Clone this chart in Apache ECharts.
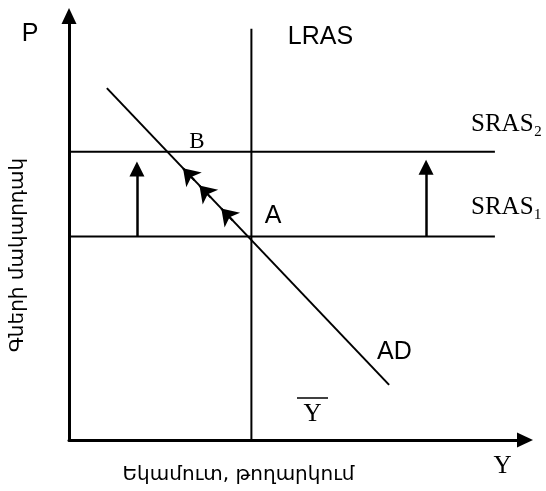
<!DOCTYPE html>
<html><head><meta charset="utf-8">
<script src="https://cdn.jsdelivr.net/npm/echarts@6/dist/echarts.min.js"></script>
<style>html,body{margin:0;padding:0;background:#fff}#c{width:546px;height:491px}</style>
</head><body><div id="c"></div>
<script>
// ---- data (abstract units, axes 0..100) ----
const lrasX = 40;                 // long-run aggregate supply (potential output)
const lrasTop = 97;
const srasLevels = [48, 68];      // SRAS1, SRAS2 price levels
const srasEndX = 93.4;
const adX = [8.3, 70.2];
const adY = [83, 13];
const shiftX = [14.9, 78.3];      // vertical shift arrows
const shiftEndY = [63.9, 64.3];
const moveX = [25.0, 28.6, 33.4]; // arrows along AD (A -> B)
const moveY = [64.1, 60.0, 54.6];
const axisNames = ['P', 'Y'];
const curveNames = ['LRAS', 'SRAS\u2081', 'SRAS\u2082', 'AD'];
const pointNames = ['A', 'B'];
const potentialLabel = 'Y';
const xTitle = 'Եկամուտ, թողարկում';
const yTitle = 'Գների մակարդակ';

const black = '#000';
const sans = 'Liberation Sans, Arial, sans-serif';
const serif = 'Liberation Serif, serif';

function seg(a, b) { return [a, b]; }

const chart = echarts.init(document.getElementById('c'), null, {renderer: 'canvas'});

const axisCommon = {
  type: 'value', min: 0, max: 100,
  axisLine: {show: true, onZero: false, symbol: ['none', 'triangle'], symbolSize: [15, 16],
             lineStyle: {color: black, width: 3}},
  axisTick: {show: false}, axisLabel: {show: false}, splitLine: {show: false}
};

const thin = {color: black, width: 2};

function txt(text, x, y, font, size, align, extra) {
  return Object.assign({
    type: 'text', x: x, y: y, silent: true,
    style: {text: text, fontFamily: font, fontSize: size, fill: black,
            align: align || 'center', verticalAlign: 'middle'}
  }, extra || {});
}

chart.setOption({
  animation: false,
  backgroundColor: '#fff',
  grid: {left: 69, right: 21, top: 16, bottom: 51},
  xAxis: axisCommon,
  yAxis: axisCommon,
  series: [
    {type: 'line', name: curveNames[0], data: [[lrasX, 0], [lrasX, lrasTop]], symbol: 'none', lineStyle: thin},
    {type: 'line', name: curveNames[1], data: [[0, srasLevels[0]], [srasEndX, srasLevels[0]]], symbol: 'none', lineStyle: thin},
    {type: 'line', name: curveNames[2], data: [[0, srasLevels[1]], [srasEndX, srasLevels[1]]], symbol: 'none', lineStyle: thin},
    {type: 'line', name: curveNames[3], data: [[adX[0], adY[0]], [adX[1], adY[1]]], symbol: 'none', lineStyle: thin},
    {type: 'lines', coordinateSystem: 'cartesian2d', symbol: ['none', 'triangle'], symbolSize: [15, 15],
     lineStyle: {color: black, width: 2.5, opacity: 1},
     data: shiftX.map((x, i) => ({coords: seg([x, srasLevels[0]], [x, shiftEndY[i]])}))},
    {type: 'lines', coordinateSystem: 'cartesian2d', symbol: ['none', 'arrow'], symbolSize: [13, 16],
     lineStyle: {color: black, width: 2, opacity: 1},
     data: moveX.map((x, i) => ({coords: seg([x + 2.5, moveY[i] - 2.83], [x, moveY[i]])}))}
  ],
  graphic: [
    txt(axisNames[0], 30, 34, sans, 25),
    txt(curveNames[0], 320.5, 37.5, sans, 25),
    txt(pointNames[1], 197, 142, serif, 23),
    txt(pointNames[0], 273, 216, sans, 25),
    txt(curveNames[2], 471, 124, serif, 25, 'left'),
    txt(curveNames[1], 471, 207, serif, 25, 'left'),
    txt(curveNames[3], 377, 352, sans, 25, 'left'),
    txt(potentialLabel, 312.5, 414, serif, 25),
    {type: 'line', silent: true, shape: {x1: 297, y1: 398, x2: 328, y2: 398}, style: {stroke: black, lineWidth: 1.5}},
    txt(axisNames[1], 502.5, 466.5, serif, 25),
    txt(xTitle, 238.5, 475, 'DejaVu Sans', 20),
    txt(yTitle, 18, 255, 'DejaVu Sans', 20, 'center', {rotation: Math.PI / 2})
  ]
});
</script>
</body></html>
